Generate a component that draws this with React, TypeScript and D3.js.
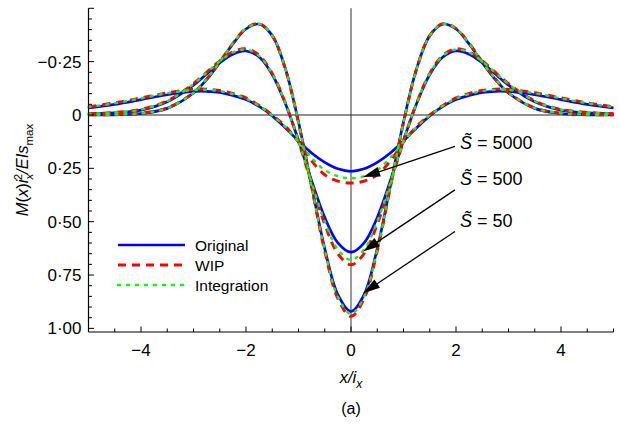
import React from "react";
import * as d3 from "d3";

// x positions (x / i_x)
const xs = [-5, -4.5, -4, -3.5, -3, -2.75, -2.5, -2.25, -2, -1.75, -1.5, -1.25, -1, -0.75, -0.5, -0.25, 0,
  0.25, 0.5, 0.75, 1, 1.25, 1.5, 1.75, 2, 2.25, 2.5, 2.75, 3, 3.5, 4, 4.5, 5];

// S = 50
const s50Original = [0.000, -0.001, -0.007, -0.031, -0.103, -0.166, -0.246, -0.333, -0.403, -0.426, -0.372, -0.217, 0.033, 0.332, 0.626, 0.842, 0.921,
  0.842, 0.626, 0.332, 0.033, -0.217, -0.372, -0.426, -0.403, -0.333, -0.246, -0.166, -0.103, -0.031, -0.007, -0.001, 0.000];
const s50WIP = [-0.001, -0.002, -0.008, -0.033, -0.105, -0.169, -0.249, -0.336, -0.406, -0.428, -0.372, -0.215, 0.036, 0.338, 0.638, 0.860, 0.944,
  0.860, 0.638, 0.338, 0.036, -0.215, -0.372, -0.428, -0.406, -0.336, -0.249, -0.169, -0.105, -0.033, -0.008, -0.002, -0.001];
const s50Integration = [-0.001, -0.002, -0.008, -0.032, -0.104, -0.168, -0.248, -0.335, -0.405, -0.427, -0.372, -0.216, 0.035, 0.335, 0.632, 0.852, 0.932,
  0.852, 0.632, 0.335, 0.035, -0.216, -0.372, -0.427, -0.405, -0.335, -0.248, -0.168, -0.104, -0.032, -0.008, -0.002, -0.001];

// S = 500
const s500Original = [-0.005, -0.010, -0.023, -0.062, -0.140, -0.192, -0.244, -0.285, -0.300, -0.272, -0.190, -0.054, 0.120, 0.308, 0.480, 0.599, 0.643,
  0.599, 0.480, 0.308, 0.120, -0.054, -0.190, -0.272, -0.300, -0.285, -0.244, -0.192, -0.140, -0.062, -0.023, -0.010, -0.005];
const s500WIP = [-0.006, -0.012, -0.026, -0.066, -0.147, -0.200, -0.254, -0.296, -0.310, -0.280, -0.195, -0.056, 0.122, 0.322, 0.512, 0.650, 0.702,
  0.650, 0.512, 0.322, 0.122, -0.056, -0.195, -0.280, -0.310, -0.296, -0.254, -0.200, -0.147, -0.066, -0.026, -0.012, -0.006];
const s500Integration = [-0.006, -0.011, -0.025, -0.065, -0.145, -0.198, -0.251, -0.293, -0.307, -0.277, -0.193, -0.055, 0.121, 0.316, 0.499, 0.630, 0.679,
  0.630, 0.499, 0.316, 0.121, -0.055, -0.193, -0.277, -0.307, -0.293, -0.251, -0.198, -0.145, -0.065, -0.025, -0.011, -0.006];

// S = 5000
const s5000Original = [-0.033, -0.050, -0.072, -0.095, -0.110, -0.111, -0.106, -0.092, -0.072, -0.040, 0.004, 0.060, 0.122, 0.178, 0.222, 0.252, 0.264,
  0.252, 0.222, 0.178, 0.122, 0.060, 0.004, -0.040, -0.072, -0.092, -0.106, -0.111, -0.110, -0.095, -0.072, -0.050, -0.033];
const s5000WIP = [-0.038, -0.057, -0.080, -0.104, -0.120, -0.121, -0.115, -0.101, -0.080, -0.045, 0.000, 0.053, 0.127, 0.215, 0.280, 0.310, 0.319,
  0.310, 0.280, 0.215, 0.127, 0.053, 0.000, -0.045, -0.080, -0.101, -0.115, -0.121, -0.120, -0.104, -0.080, -0.057, -0.038];
const s5000Integration = [-0.037, -0.055, -0.078, -0.102, -0.117, -0.118, -0.112, -0.098, -0.077, -0.043, 0.002, 0.056, 0.125, 0.200, 0.258, 0.287, 0.297,
  0.287, 0.258, 0.200, 0.125, 0.056, 0.002, -0.043, -0.077, -0.098, -0.112, -0.118, -0.117, -0.102, -0.078, -0.055, -0.037];

const methods = ["Original", "WIP", "Integration"];
const yTickValues = [-0.25, 0, 0.25, 0.5, 0.75, 1.0];
const yTickLabels = ["\u22120\u00b725", "0", "0\u00b725", "0\u00b750", "0\u00b775", "1\u00b700"];
const xTickValues = [-4, -2, 0, 2, 4];
const xTickLabels = ["\u22124", "\u22122", "0", "2", "4"];

// annotation arrows (data coords): label, tail, tip
const annLabels = ["5000", "500", "50"];
const annTailX = [1.98, 1.98, 1.98];
const annTailY = [0.147, 0.351, 0.546];
const annTipX = [0.23, 0.23, 0.23];
const annTipY = [0.291, 0.640, 0.835];
const annTextY = [0.159, 0.327, 0.525];

const FONT = "'Liberation Sans', Arial, Helvetica, sans-serif";

export default function App() {
  const W = 619, H = 425;
  const x = d3.scaleLinear().domain([-5, 5]).range([88.5, 613.5]);
  const y = d3.scaleLinear().domain([-0.5, 1.017]).range([8.3, 332]);
  const line = d3.line<number>()
    .x((_, i) => x(xs[i]))
    .y((d) => y(d))
    .curve(d3.curveCatmullRom.alpha(0.5));

  const groups = [
    [s50Original, s50WIP, s50Integration],
    [s500Original, s500WIP, s500Integration],
    [s5000Original, s5000WIP, s5000Integration],
  ];
  const styles = [
    { stroke: "#0000ff", width: 2.7, dash: undefined as string | undefined },
    { stroke: "#ff0000", width: 2.9, dash: "8,6" },
    { stroke: "#00ff00", width: 2.4, dash: "2,7" },
  ];

  const yMinor = d3.range(-0.5, 1.0001, 0.05);
  const xMinor = d3.range(-5, 5.0001, 0.5);
  const x0 = x(-5), x1 = x(5), yTop = y(-0.5), yBot = y(1.017);

  const arrowHead = (tx: number, ty: number, sx: number, sy: number) => {
    const ang = Math.atan2(ty - sy, tx - sx);
    const L = 17, Wd = 5;
    const bx = tx - L * Math.cos(ang), by = ty - L * Math.sin(ang);
    const px = -Math.sin(ang) * Wd, py = Math.cos(ang) * Wd;
    return `M${tx},${ty}L${bx + px},${by + py}L${bx - px},${by - py}Z`;
  };

  return (
    <svg width={W} height={H} style={{ position: "absolute", left: 0, top: 0, background: "#fff" }} fontFamily={FONT}>
      <rect x={0} y={0} width={W} height={H} fill="#fff" />
      {/* zero lines */}
      <line x1={x(0)} x2={x(0)} y1={yTop} y2={yBot} stroke="#444" strokeWidth={1.1} />
      <line x1={x0} x2={x1} y1={y(0)} y2={y(0)} stroke="#222" strokeWidth={1.1} />

      {/* curves */}
      {styles.map((st, mi) =>
        groups.map((g, gi) => (
          <path key={`${mi}-${gi}`} d={line(g[mi]) || ""} fill="none" stroke={st.stroke}
            strokeWidth={st.width} strokeDasharray={st.dash} strokeLinecap={mi === 2 ? "round" : "butt"} />
        ))
      )}

      {/* axes */}
      <line x1={x0} x2={x0} y1={yTop} y2={yBot} stroke="#000" strokeWidth={1.2} />
      <line x1={x0} x2={x1} y1={yBot} y2={yBot} stroke="#000" strokeWidth={1.2} />
      {yMinor.map((v, i) => {
        const major = Math.abs(v / 0.25 - Math.round(v / 0.25)) < 1e-6;
        return <line key={"ym" + i} x1={x0} x2={x0 + (major ? 5.5 : 3.5)} y1={y(v)} y2={y(v)} stroke="#000" strokeWidth={1} />;
      })}
      {xMinor.map((v, i) => {
        const major = Math.abs(v / 2 - Math.round(v / 2)) < 1e-6;
        return <line key={"xm" + i} x1={x(v)} x2={x(v)} y1={yBot} y2={yBot - (major ? 5.5 : 3.5)} stroke="#000" strokeWidth={1} />;
      })}
      {yTickValues.map((v, i) => (
        <text key={"yl" + i} x={x0 - 7} y={y(v)} dy="0.36em" textAnchor="end" fontSize={17} fill="#000">{yTickLabels[i]}</text>
      ))}
      {xTickValues.map((v, i) => (
        <text key={"xl" + i} x={x(v)} y={356} textAnchor="middle" fontSize={17} fill="#000">{xTickLabels[i]}</text>
      ))}

      {/* axis titles */}
      <text x={x(0)} y={383} textAnchor="middle" fontSize={16.5} fontStyle="italic" fill="#000">
        x/i<tspan fontSize={12} dy={4.5}>x</tspan>
      </text>
      <text x={x(0)} y={414} textAnchor="middle" fontSize={16} fill="#000">(a)</text>
      <text transform={`translate(28,170) rotate(-90)`} textAnchor="middle" fontSize={16.5} fill="#000">
        <tspan fontStyle="italic">M</tspan>(<tspan fontStyle="italic">x</tspan>)<tspan fontStyle="italic">i</tspan>
        <tspan fontStyle="italic" fontSize={11.5} dy={4.5}>x</tspan>
        <tspan fontSize={11.5} dx={-6.5} dy={-11}>2</tspan>
        <tspan fontStyle="italic" dy={6.5}>/EIs</tspan>
        <tspan fontSize={11.5} dy={4.5}>max</tspan>
      </text>

      {/* legend */}
      {methods.map((m, i) => {
        const ly = 245 + i * 20;
        return (
          <g key={"lg" + i}>
            <line x1={118} x2={185} y1={ly} y2={ly} stroke={styles[i].stroke} strokeWidth={styles[i].width}
              strokeDasharray={styles[i].dash} strokeLinecap={i === 2 ? "round" : "butt"} />
            <text x={195} y={ly + 5.5} fontSize={15.5} fill="#000">{m}</text>
          </g>
        );
      })}

      {/* annotations */}
      {annLabels.map((lab, i) => {
        const sx = x(annTailX[i]), sy = y(annTailY[i]);
        const tx = x(annTipX[i]), ty = y(annTipY[i]);
        const ang = Math.atan2(ty - sy, tx - sx);
        return (
          <g key={"an" + i}>
            <line x1={sx} y1={sy} x2={tx - 12 * Math.cos(ang)} y2={ty - 12 * Math.sin(ang)} stroke="#000" strokeWidth={1.3} />
            <path d={arrowHead(tx, ty, sx, sy)} fill="#000" />
            <text x={460} y={y(annTextY[i])} fontSize={18} fill="#000">
              <tspan fontStyle="italic">{"S\u0303"}</tspan>{" = " + lab}
            </text>
          </g>
        );
      })}
    </svg>
  );
}
